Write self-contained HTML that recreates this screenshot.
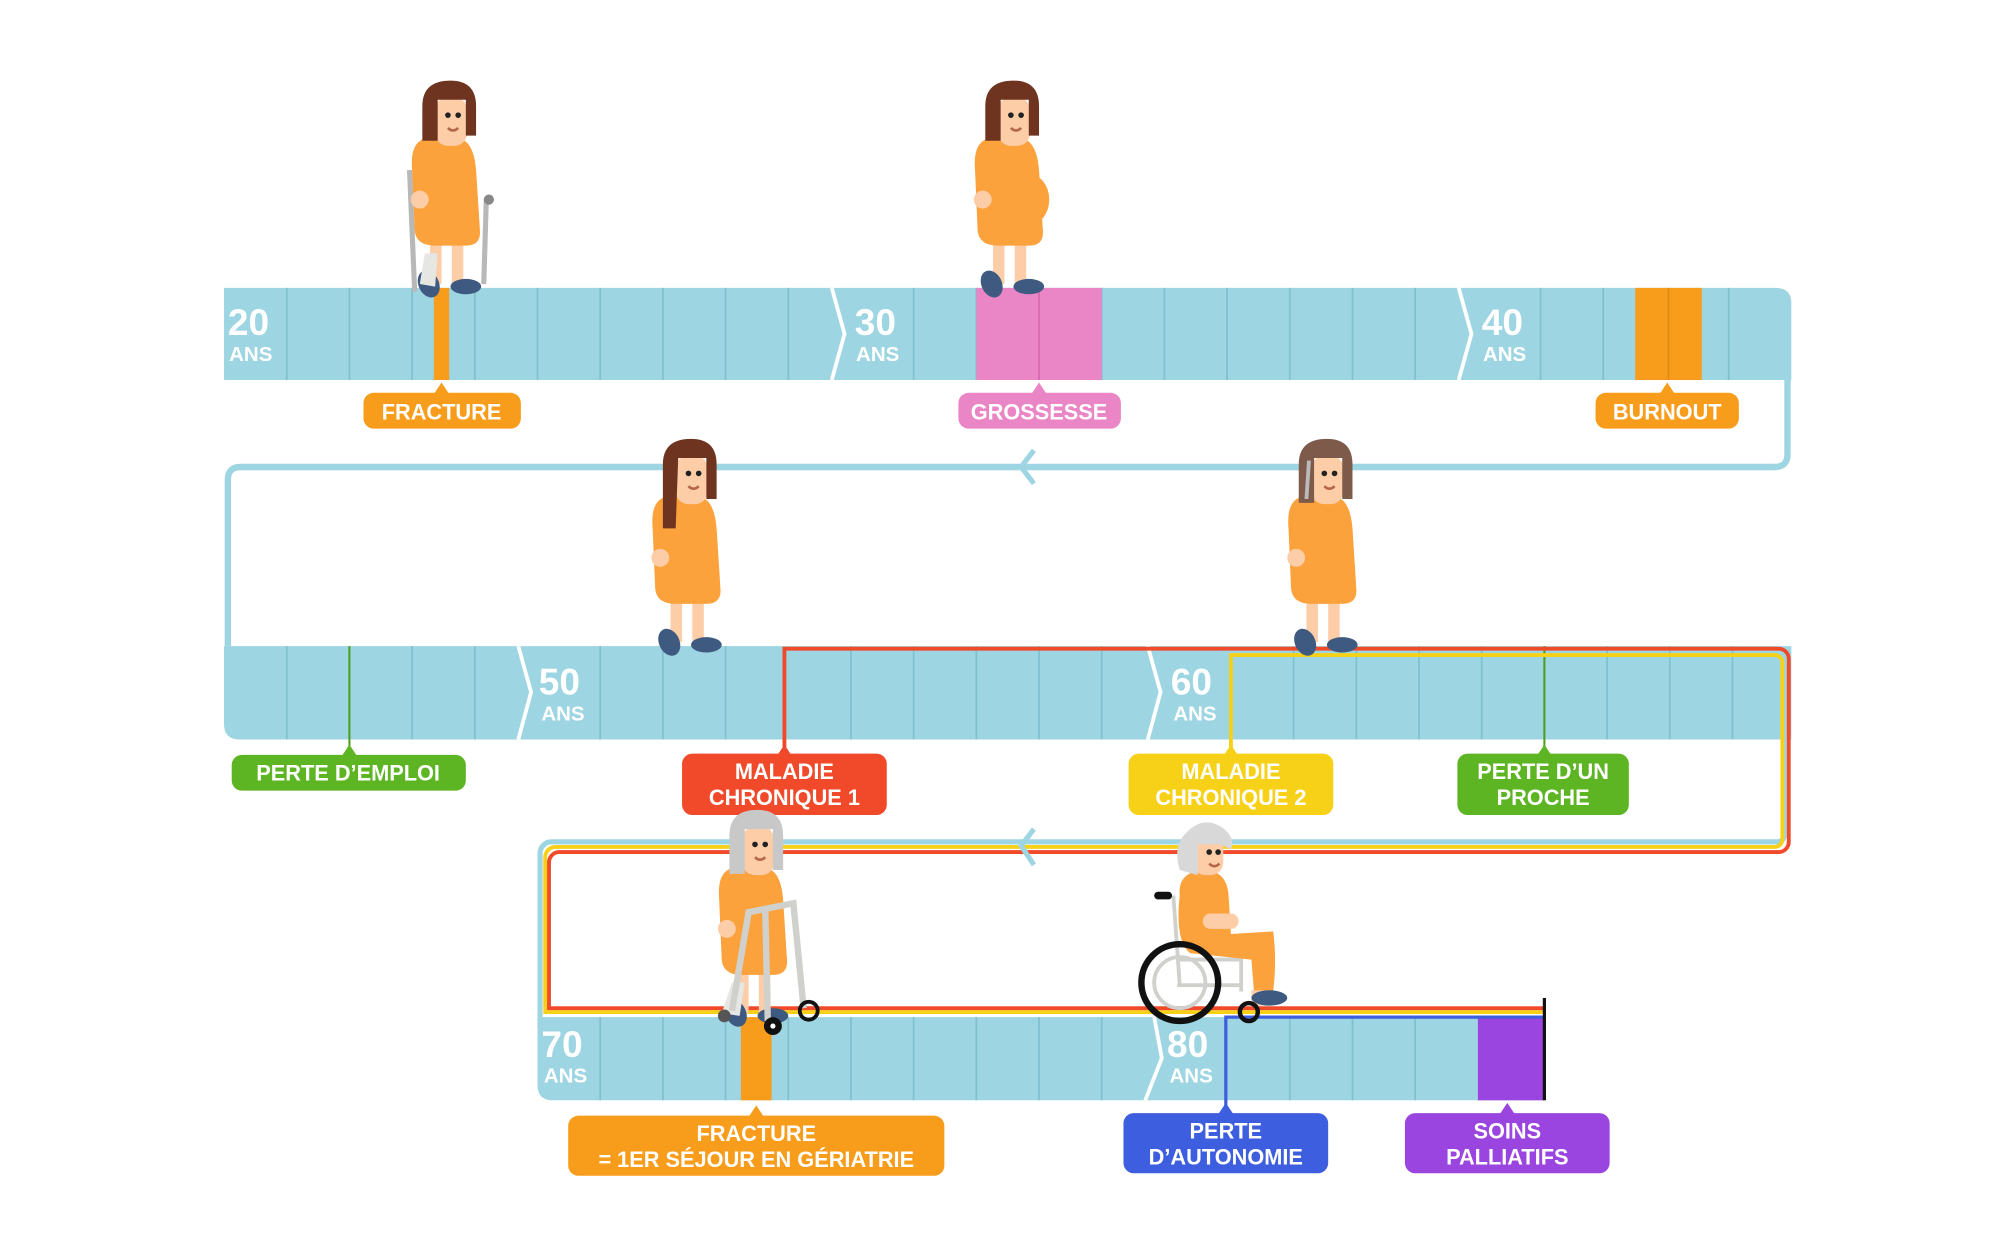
<!DOCTYPE html>
<html><head><meta charset="utf-8"><style>
html,body{margin:0;padding:0;background:#fff;}
svg{display:block;}
text{font-family:"Liberation Sans",sans-serif;font-weight:bold;}
</style></head><body>
<svg width="2000" height="1250" viewBox="0 0 1563 977" xmlns="http://www.w3.org/2000/svg">
<defs>
<g id="body">
  <rect x="-14" y="-42" width="9" height="36" fill="#fdcda8"/>
  <rect x="3" y="-42" width="9" height="36" fill="#fdcda8"/>
  <ellipse cx="-15" cy="-6" rx="8" ry="11" fill="#3f5a80" transform="rotate(-25 -15 -6)"/>
  <ellipse cx="14" cy="-4" rx="12" ry="6" fill="#3f5a80"/>
  <path d="M-16,-120 Q-30,-118 -28,-95 L-26,-48 Q-25,-36 -10,-36 L14,-36 Q26,-36 25,-48 L22,-95 Q20,-120 6,-120 Z" fill="#fba23c"/>
  <circle cx="-22" cy="-72" r="7" fill="#fdcda8"/>
  <rect x="-10" y="-152" width="25" height="38" rx="10" fill="#fdcda8"/>
  <circle cx="0" cy="-138" r="2.2" fill="#222"/>
  <circle cx="8" cy="-138" r="2.2" fill="#222"/>
  <path d="M0,-128 Q4,-124 8,-128" stroke="#b5654a" stroke-width="2" fill="none"/>
</g>
</defs>

<path d="M1397,297 V355 Q1397,365 1387,365 H188 Q178,365 178,375 V505" stroke="#9dd5e2" stroke-width="5" fill="none"/>
<path d="M808,352 L798,365 L808,378" stroke="#9dd5e2" stroke-width="4" fill="none"/>

<path d="M175,225 H1388 Q1400,225 1400,237 V297 H175 Z" fill="#9dd5e2"/>
<g stroke="#7fbfce" stroke-width="1.3">
<line x1="224" y1="225" x2="224" y2="297"/><line x1="273" y1="225" x2="273" y2="297"/><line x1="322" y1="225" x2="322" y2="297"/><line x1="371" y1="225" x2="371" y2="297"/><line x1="420" y1="225" x2="420" y2="297"/><line x1="469" y1="225" x2="469" y2="297"/><line x1="518" y1="225" x2="518" y2="297"/><line x1="567" y1="225" x2="567" y2="297"/><line x1="616" y1="225" x2="616" y2="297"/>
<line x1="714" y1="225" x2="714" y2="297"/><line x1="763" y1="225" x2="763" y2="297"/><line x1="812" y1="225" x2="812" y2="297"/><line x1="861" y1="225" x2="861" y2="297"/><line x1="910" y1="225" x2="910" y2="297"/><line x1="959" y1="225" x2="959" y2="297"/><line x1="1008" y1="225" x2="1008" y2="297"/><line x1="1057" y1="225" x2="1057" y2="297"/><line x1="1106" y1="225" x2="1106" y2="297"/>
<line x1="1204" y1="225" x2="1204" y2="297"/><line x1="1253" y1="225" x2="1253" y2="297"/><line x1="1302" y1="225" x2="1302" y2="297"/><line x1="1351" y1="225" x2="1351" y2="297"/>
</g>
<rect x="339" y="225" width="12" height="72" fill="#f89c1c"/>
<rect x="763" y="225" width="98" height="72" fill="#ea85c6"/><line x1="812" y1="225" x2="812" y2="297" stroke="#d56aae" stroke-width="1.3"/>
<rect x="1278" y="225" width="52" height="72" fill="#f89c1c"/><line x1="1304" y1="225" x2="1304" y2="297" stroke="#e08a10" stroke-width="1.3"/>
<path d="M650,225 L660,261 L650,297" stroke="#fff" stroke-width="3" fill="none"/>
<path d="M1140,225 L1150,261 L1140,297" stroke="#fff" stroke-width="3" fill="none"/>
<g fill="#fff"><text x="178" y="262" font-size="29">20</text><text x="179" y="282" font-size="16">ANS</text>
<text x="668" y="262" font-size="29">30</text><text x="669" y="282" font-size="16">ANS</text>
<text x="1158" y="262" font-size="29">40</text><text x="1159" y="282" font-size="16">ANS</text></g>

<g font-size="17" fill="#fff" text-anchor="middle">
<path d="M339,308 L345,299 L351,308 Z" fill="#f89c1c"/><rect x="284" y="307" width="123" height="28" rx="8" fill="#f89c1c"/><text x="345" y="328">FRACTURE</text>
<path d="M806,308 L812,299 L818,308 Z" fill="#ea85c6"/><rect x="749" y="307" width="127" height="28" rx="8" fill="#ea85c6"/><text x="812" y="328">GROSSESSE</text>
<path d="M1297,308 L1303,299 L1309,308 Z" fill="#f89c1c"/><rect x="1247" y="307" width="112" height="28" rx="8" fill="#f89c1c"/><text x="1303" y="328">BURNOUT</text>
</g>

<path d="M175,505 H1400 V578 H187 Q175,578 175,566 Z" fill="#9dd5e2"/>
<g stroke="#7fbfce" stroke-width="1.3">
<line x1="224" y1="505" x2="224" y2="578"/><line x1="322" y1="505" x2="322" y2="578"/><line x1="371" y1="505" x2="371" y2="578"/>
<line x1="469" y1="505" x2="469" y2="578"/><line x1="518" y1="505" x2="518" y2="578"/><line x1="567" y1="505" x2="567" y2="578"/><line x1="665" y1="505" x2="665" y2="578"/><line x1="714" y1="505" x2="714" y2="578"/><line x1="763" y1="505" x2="763" y2="578"/><line x1="812" y1="505" x2="812" y2="578"/><line x1="861" y1="505" x2="861" y2="578"/>
<line x1="1011" y1="505" x2="1011" y2="578"/><line x1="1060" y1="505" x2="1060" y2="578"/><line x1="1109" y1="505" x2="1109" y2="578"/><line x1="1158" y1="505" x2="1158" y2="578"/><line x1="1256" y1="505" x2="1256" y2="578"/><line x1="1305" y1="505" x2="1305" y2="578"/><line x1="1354" y1="505" x2="1354" y2="578"/>
</g>
<path d="M405,505 L415,541 L405,578" stroke="#fff" stroke-width="3" fill="none"/>
<path d="M897,505 L907,541 L897,578" stroke="#fff" stroke-width="3" fill="none"/>
<g fill="#fff"><text x="421" y="543" font-size="29">50</text><text x="423" y="563" font-size="16">ANS</text>
<text x="915" y="543" font-size="29">60</text><text x="917" y="563" font-size="16">ANS</text></g>
<line x1="273" y1="505" x2="273" y2="590" stroke="#4a9e1c" stroke-width="1.6"/>
<line x1="1207" y1="505" x2="1207" y2="590" stroke="#4a9e1c" stroke-width="1.6"/>

<path d="M1395,578 V652 a6,6 0 0 1 -6,6 H431 a9,9 0 0 0 -9,9 V795" stroke="#9dd5e2" stroke-width="4" fill="none"/>
<path d="M962,590 V512 H1387 a6,6 0 0 1 6,6 V656 a6,6 0 0 1 -6,6 H434 a8,8 0 0 0 -8,8 V791 H1207" stroke="#f7d117" stroke-width="3" fill="none"/>
<path d="M613,590 V507 H1390 a8,8 0 0 1 8,8 V658 a8,8 0 0 1 -8,8 H437 a8,8 0 0 0 -8,8 V788 H1207" stroke="#f04a2a" stroke-width="3" fill="none"/>
<path d="M808,648 L798,661 L808,676" stroke="#9dd5e2" stroke-width="4" fill="none"/>

<g font-size="17" fill="#fff" text-anchor="middle">
<path d="M267,591 L273,582 L279,591 Z" fill="#5db523"/><rect x="181" y="590" width="183" height="28" rx="8" fill="#5db523"/><text x="272" y="610">PERTE D’EMPLOI</text>
<path d="M607,591 L613,582 L619,591 Z" fill="#f04a2a"/><rect x="533" y="589" width="160" height="48" rx="8" fill="#f04a2a"/><text x="613" y="609">MALADIE</text><text x="613" y="629">CHRONIQUE 1</text>
<path d="M956,591 L962,582 L968,591 Z" fill="#f7d117"/><rect x="882" y="589" width="160" height="48" rx="8" fill="#f7d117"/><text x="962" y="609">MALADIE</text><text x="962" y="629">CHRONIQUE 2</text>
<path d="M1201,591 L1207,582 L1213,591 Z" fill="#5db523"/><rect x="1139" y="589" width="134" height="48" rx="8" fill="#5db523"/><text x="1206" y="609">PERTE D’UN</text><text x="1206" y="629">PROCHE</text>
</g>

<path d="M420,795 H1207 V860 H432 Q420,860 420,848 Z" fill="#9dd5e2"/>
<g stroke="#7fbfce" stroke-width="1.3">
<line x1="469" y1="795" x2="469" y2="860"/><line x1="518" y1="795" x2="518" y2="860"/><line x1="567" y1="795" x2="567" y2="860"/><line x1="616" y1="795" x2="616" y2="860"/><line x1="665" y1="795" x2="665" y2="860"/><line x1="714" y1="795" x2="714" y2="860"/><line x1="763" y1="795" x2="763" y2="860"/><line x1="812" y1="795" x2="812" y2="860"/><line x1="861" y1="795" x2="861" y2="860"/>
<line x1="1008" y1="795" x2="1008" y2="860"/><line x1="1057" y1="795" x2="1057" y2="860"/><line x1="1106" y1="795" x2="1106" y2="860"/>
</g>
<rect x="579" y="795" width="24" height="65" fill="#f89c1c"/>
<rect x="1155" y="795" width="52" height="65" fill="#9b45e0"/>
<path d="M958,880 V795 H1207" stroke="#3d5ede" stroke-width="2.5" fill="none"/>
<line x1="1207" y1="780" x2="1207" y2="860" stroke="#111" stroke-width="2.5"/>
<path d="M902,795 L908,827 L895,860" stroke="#fff" stroke-width="3" fill="none"/>
<g fill="#fff"><text x="423" y="826" font-size="29">70</text><text x="425" y="846" font-size="16">ANS</text>
<text x="912" y="826" font-size="29">80</text><text x="914" y="846" font-size="16">ANS</text></g>

<g font-size="17" fill="#fff" text-anchor="middle">
<path d="M585,873 L591,864 L597,873 Z" fill="#f89c1c"/><rect x="444" y="872" width="294" height="47" rx="8" fill="#f89c1c"/><text x="591" y="892">FRACTURE</text><text x="591" y="912">= 1ER SÉJOUR EN GÉRIATRIE</text>
<path d="M952,871 L958,862 L964,871 Z" fill="#3d5ede"/><rect x="878" y="870" width="160" height="47" rx="8" fill="#3d5ede"/><text x="958" y="890">PERTE</text><text x="958" y="910">D’AUTONOMIE</text>
<path d="M1172,871 L1178,862 L1184,871 Z" fill="#9b45e0"/><rect x="1098" y="870" width="160" height="47" rx="8" fill="#9b45e0"/><text x="1178" y="890">SOINS</text><text x="1178" y="910">PALLIATIFS</text>
</g>

<g transform="translate(350,228)">
  <line x1="-30" y1="-95" x2="-26" y2="0" stroke="#b8b8b8" stroke-width="4"/>
  <line x1="30" y1="-72" x2="28" y2="-6" stroke="#b8b8b8" stroke-width="4"/>
  <use href="#body"/>
  <path d="M-20,-118 L-20,-145 Q-20,-165 2,-165 Q22,-165 22,-145 L22,-122 L14,-122 L14,-150 L-8,-150 L-8,-118 Z" fill="#6e3420"/>
  <path d="M-18,-30 L-8,-30 L-10,-4 L-22,-6 Z" fill="#e6e6e2"/>
  <circle cx="32" cy="-72" r="4" fill="#888"/>
</g>
<g transform="translate(790,228)">
  <use href="#body"/>
  <ellipse cx="14" cy="-72" rx="16" ry="20" fill="#fba23c"/>
  <path d="M-20,-118 L-20,-145 Q-20,-165 2,-165 Q22,-165 22,-145 L22,-122 L14,-122 L14,-150 L-8,-150 L-8,-118 Z" fill="#6e3420"/>
</g>
<g transform="translate(538,508)">
  <use href="#body"/>
  <path d="M-20,-95 L-20,-145 Q-20,-165 2,-165 Q22,-165 22,-145 L22,-118 L14,-118 L14,-150 L-8,-150 L-10,-95 Z" fill="#6e3420"/>
</g>
<g transform="translate(1035,508)">
  <use href="#body"/>
  <path d="M-20,-115 L-20,-145 Q-20,-165 2,-165 Q22,-165 22,-145 L22,-118 L14,-118 L14,-150 L-8,-150 L-8,-115 Z" fill="#7d5a4a"/>
  <path d="M-12,-148 L-14,-118" stroke="#bbb" stroke-width="3"/>
</g>
<g transform="translate(590,798)">
  <use href="#body"/>
  <path d="M-20,-115 L-20,-145 Q-20,-165 2,-165 Q22,-165 22,-145 L22,-118 L14,-118 L14,-150 L-8,-150 L-8,-115 Z" fill="#c8c8c8"/>
  <path d="M-18,-30 L-8,-30 L-12,-4 L-26,-6 Z" fill="#e6e6e2"/>
  <path d="M-18,-8 L-5,-85 L30,-92 L38,-10" stroke="#d0d0cc" stroke-width="5" fill="none"/>
  <line x1="8" y1="-88" x2="10" y2="0" stroke="#d0d0cc" stroke-width="5"/>
  <circle cx="-24" cy="-4" r="5" fill="#555"/>
  <circle cx="14" cy="4" r="7" fill="#111"/><circle cx="14" cy="4" r="2" fill="#fff"/>
  <circle cx="42" cy="-8" r="7" fill="none" stroke="#111" stroke-width="3"/>
</g>
<g transform="translate(940,790)">
  <line x1="-23" y1="-90" x2="-18" y2="-20" stroke="#d0d0cc" stroke-width="3"/>
  <rect x="-38" y="-93" width="14" height="6" rx="3" fill="#111"/>
  <path d="M-20,-40 L30,-40 L30,-15 M-20,-20 L30,-20" stroke="#d0d0cc" stroke-width="3" fill="none"/>
  <path d="M-18,-90 Q-20,-108 0,-110 Q18,-110 20,-92 L22,-60 L55,-62 Q58,-40 55,-15 L40,-15 L38,-40 L-10,-45 Q-22,-55 -18,-90 Z" fill="#fba23c"/>
  <rect x="0" y="-76" width="28" height="12" rx="6" fill="#fdcda8"/>
  <rect x="38" y="-16" width="14" height="12" fill="#fdcda8"/>
  <ellipse cx="52" cy="-10" rx="14" ry="6" fill="#3f5a80"/>
  <rect x="-8" y="-140" width="24" height="34" rx="10" fill="#fdcda8"/>
  <path d="M-18,-110 Q-24,-130 -12,-140 Q0,-152 14,-144 Q26,-136 22,-126 L14,-130 L-4,-130 L-4,-106 Z" fill="#d8d8d8"/>
  <circle cx="5" cy="-124" r="2.2" fill="#222"/><circle cx="12" cy="-124" r="2.2" fill="#222"/>
  <path d="M5,-115 Q9,-111 13,-115" stroke="#b5654a" stroke-width="2" fill="none"/>
  <circle cx="-18" cy="-22" r="30" fill="none" stroke="#111" stroke-width="5"/>
  <circle cx="-18" cy="-22" r="20" fill="none" stroke="#d0d0cc" stroke-width="3"/>
  <circle cx="36" cy="1" r="7" fill="none" stroke="#111" stroke-width="3.5"/>
</g>
</svg>
</body></html>
